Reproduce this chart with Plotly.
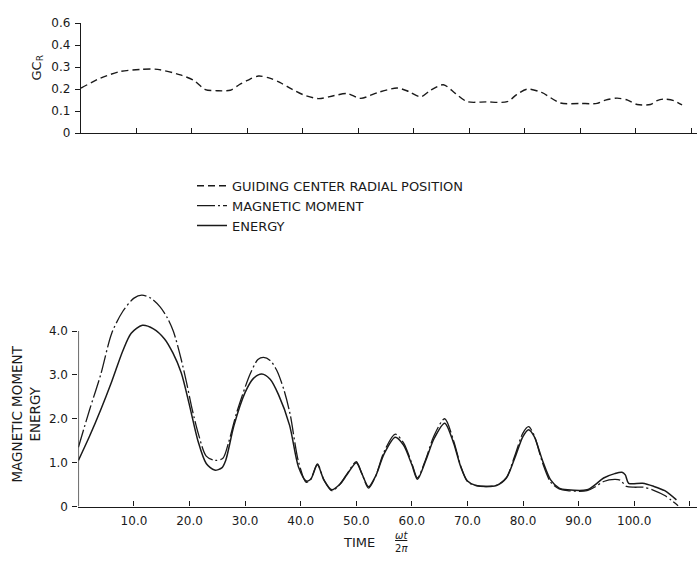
import plotly.graph_objects as go

# ---- data ----
t_gc = [0, 3.5, 7, 10.7, 13.8, 17.9, 20.3, 22.4, 24.5, 26.9, 28.5, 30, 32, 34, 35.9, 38, 40, 42.8, 45.5, 48,
        50.4, 53.5, 57, 59, 61.2, 63, 65.3, 67.5, 69.6, 73, 76.8, 78.5, 80.4, 83, 86.4, 90, 93, 94.5, 96.6,
        98.5, 100.2, 102.6, 103.8, 105, 106.8, 108.3]
gc_r = [0.205, 0.25, 0.28, 0.29, 0.29, 0.265, 0.24, 0.198, 0.193, 0.195, 0.22, 0.24, 0.26, 0.25, 0.23, 0.2,
        0.175, 0.157, 0.17, 0.18, 0.158, 0.185, 0.205, 0.19, 0.165, 0.195, 0.22, 0.18, 0.143, 0.142, 0.143,
        0.175, 0.2, 0.185, 0.137, 0.135, 0.135, 0.15, 0.159, 0.15, 0.13, 0.13, 0.148, 0.155, 0.148, 0.128]

t_en = [0, 2, 4, 6, 8, 9.5, 11.5, 13.5, 15.5, 17, 18.5, 20, 21.5, 23, 24.5, 25.8, 26.5, 28, 30, 31.5, 33,
        34.5, 36, 38, 39.6, 41, 41.8, 43, 44.2, 45.6, 47, 48.3, 50, 51, 52.2, 53.5, 55, 57, 58.5, 60, 61,
        62.5, 64, 65.9, 67.5, 68.8, 70, 71.5, 75.2, 77, 78.5, 80, 81, 82, 83.5, 85, 86.5, 88, 91.5, 93, 94.5,
        96.5, 97.8, 98.4, 99, 101.5, 103.5, 105.5, 107.6]
energy = [1.05, 1.6, 2.2, 2.85, 3.55, 3.95, 4.13, 4.05, 3.82, 3.5, 3.05, 2.3, 1.5, 0.98, 0.83, 0.88, 1.05,
          1.85, 2.6, 2.92, 3.02, 2.9, 2.55, 1.85, 0.9, 0.58, 0.62, 0.95, 0.6, 0.38, 0.5, 0.72, 1.0, 0.75,
          0.45, 0.7, 1.2, 1.58, 1.4, 0.95, 0.62, 1.05, 1.55, 1.9, 1.45, 0.9, 0.58, 0.48, 0.48, 0.65, 1.1,
          1.6, 1.75, 1.6, 1.05, 0.6, 0.42, 0.38, 0.38, 0.5, 0.65, 0.75, 0.78, 0.72, 0.53, 0.53, 0.46, 0.36,
          0.15]

t_mm = [0, 2, 4, 6, 8, 10, 11.4, 13, 14.7, 16, 17.1, 18.5, 19.5, 20.5, 21.6, 23, 24.6, 26, 27, 28.5, 30.9,
        32.3, 33.3, 34.5, 35.7, 37, 38.1, 39.6, 41, 41.8, 43, 44.2, 45.6, 47, 48.3, 50, 51, 52.2, 53.5, 55,
        57, 58.5, 60, 61, 62.5, 64, 65.9, 67.5, 68.8, 70, 71.5, 75.2, 77, 78.5, 80, 81, 82, 83.5, 85, 86.5,
        88, 91.5, 93, 94.5, 96.5, 97.5, 98.6, 100, 101.6, 103.5, 105.5, 107.9]
moment = [1.35, 2.2, 3.0, 3.95, 4.45, 4.75, 4.82, 4.75, 4.55, 4.3, 3.99, 3.35, 2.8, 2.2, 1.65, 1.15, 1.05,
          1.1, 1.45, 2.15, 3.02, 3.35, 3.4, 3.33, 3.1, 2.65, 2.1, 1.02, 0.55, 0.62, 0.97, 0.6, 0.36, 0.5,
          0.74, 1.02, 0.75, 0.42, 0.7, 1.25, 1.65, 1.45, 0.98, 0.65, 1.08, 1.62, 2.0, 1.5, 0.92, 0.57, 0.48,
          0.48, 0.66, 1.15, 1.68, 1.82, 1.62, 1.0, 0.55, 0.4, 0.36, 0.36, 0.45, 0.57, 0.62, 0.6, 0.46, 0.44,
          0.44, 0.37, 0.25, 0.02]

x_ticks = [10, 20, 30, 40, 50, 60, 70, 80, 90, 100, 110]
x_ticktext = ["10.0", "20.0", "30.0", "40.0", "50.0", "60.0", "70.0", "80.0", "90.0", "100.0", " "]
top_y_ticks = [0, 0.1, 0.2, 0.3, 0.4, 0.5]
top_y_text = ["0", "0.1", "0.2", "0.3", "0.4", "0.6"]
bot_y_ticks = [0, 1, 2, 3, 4]
bot_y_text = ["0", "1.0", "2.0", "3.0", "4.0"]

FONT = "DejaVu Sans"
W, H = 697, 561
INK = "#1a1a1a"

fig = go.Figure()
fig.add_trace(go.Scatter(x=t_gc, y=gc_r, mode="lines", name="GUIDING CENTER RADIAL POSITION",
                         line=dict(color=INK, width=1.4, dash="7px,4px", shape="spline", smoothing=0.8),
                         xaxis="x", yaxis="y"))
fig.add_trace(go.Scatter(x=t_mm, y=moment, mode="lines", name="MAGNETIC MOMENT",
                         line=dict(color=INK, width=1.3, dash="18px,3px,2px,3px", shape="spline", smoothing=0.8),
                         xaxis="x2", yaxis="y2"))
fig.add_trace(go.Scatter(x=t_en, y=energy, mode="lines", name="ENERGY",
                         line=dict(color=INK, width=1.5, shape="spline", smoothing=0.8),
                         xaxis="x2", yaxis="y2"))

def px_x(p):
    return p / W

def px_y(p):
    return (H - p) / H

common_x = dict(showgrid=False, zeroline=False, showline=True, linecolor=INK, linewidth=1.3,
                ticks="inside", ticklen=5, tickwidth=1.3, tickcolor=INK, tickvals=x_ticks)

fig.update_layout(
    width=W, height=H,
    margin=dict(l=0, r=0, t=0, b=0),
    paper_bgcolor="white", plot_bgcolor="white",
    font=dict(family=FONT, size=12, color=INK),
    xaxis=dict(common_x, domain=[px_x(81), 1.0], range=[0, 111], anchor="y",
               showticklabels=False),
    yaxis=dict(domain=[px_y(129.3), px_y(16.7)], range=[0, 0.5], anchor="x",
               showgrid=False, zeroline=False, showline=True, linecolor=INK, linewidth=1.3,
               ticks="outside", ticklen=5, tickwidth=1.3, tickcolor=INK,
               tickvals=top_y_ticks, ticktext=top_y_text, tickfont=dict(size=12), ticklabelstandoff=2),
    xaxis2=dict(common_x, domain=[px_x(78.4), 1.0], range=[0, 111.3], anchor="y2",
                ticktext=x_ticktext, tickfont=dict(size=12), ticklabelstandoff=3),
    yaxis2=dict(domain=[px_y(512.3), px_y(287.3)], range=[0, 5.0], anchor="x2",
                showgrid=False, zeroline=False, showline=False,
                ticks="outside", ticklen=5, tickwidth=1.3, tickcolor=INK,
                tickvals=bot_y_ticks, ticktext=bot_y_text, tickfont=dict(size=12), ticklabelstandoff=2),
    showlegend=True,
    legend=dict(x=px_x(192), y=px_y(168), xanchor="left", yanchor="top",
                font=dict(family=FONT, size=13, color=INK), bgcolor="rgba(0,0,0,0)",
                tracegroupgap=0, itemwidth=30),
)

# y-axis line of lower plot (0 to 4.0 only)
fig.add_shape(type="line", xref="x2", yref="y2", x0=0, x1=0, y0=0, y1=4,
              line=dict(color=INK, width=1.3))

# axis titles
fig.add_annotation(text="GC<sub>R</sub>", xref="paper", yref="paper", x=px_x(37), y=px_y(62),
                   xanchor="center", yanchor="middle",
                   textangle=-90, showarrow=False, font=dict(size=13))
fig.add_annotation(text="MAGNETIC MOMENT<br>ENERGY", xref="paper", yref="paper", x=px_x(26), y=px_y(418),
                   xanchor="center", yanchor="middle",
                   textangle=-90, showarrow=False, font=dict(size=13.5))
fig.add_annotation(text="TIME", xref="paper", yref="paper", x=px_x(359), y=px_y(549),
                   xanchor="center", yanchor="middle", showarrow=False, font=dict(size=13))
fig.add_annotation(text="<u><i>ωt</i></u><br>2<i>π</i>", xref="paper", yref="paper", x=px_x(401), y=px_y(549),
                   xanchor="center", yanchor="middle", showarrow=False, font=dict(size=10))

fig.write_html("out.html")
